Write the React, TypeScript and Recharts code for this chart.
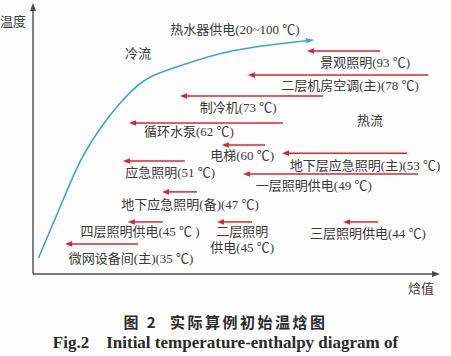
import React from 'react';
import { ComposedChart, XAxis, YAxis, Line, Scatter, ReferenceLine } from 'recharts';

// Cold stream curve (enthalpy, temperature level) in schematic units 0-100
const curveEnthalpy = [1.35, 4.67, 8.11, 11.79, 16.46, 21.87, 27.03, 31.7, 37.84, 47.17, 58.23, 68.8];
const curveTemp = [5.9, 17.7, 29.9, 42.07, 53.5, 63.84, 71.03, 74.54, 77.68, 81.73, 84.5, 86.35];

// Hot stream arrows (pointing left): head enthalpy, tail enthalpy, level
const arrowNames = ['景观照明', '二层机房空调(主)', '制冷机', '循环水泵', '电梯', '应急照明', '地下层应急照明(主)', '一层照明供电', '地下应急照明(备)', '四层照明供电', '二层照明供电', '三层照明供电', '微网设备间(主)'];
const arrowHeadX = [67.3, 52.8, 36.1, 23.6, 46.4, 22.1, 61.2, 51.6, 31.7, 23.3, 45.2, 76.2, 7.9];
const arrowTailX = [85.3, 97.1, 71.3, 61.4, 57.0, 37.3, 91.9, 94.6, 40.3, 31.9, 53.8, 84.8, 25.8];
const arrowLevel = [82.3, 73.4, 65.7, 55.7, 47.6, 41.7, 44.6, 36.9, 30.3, 19.2, 19.2, 19.2, 11.1];

// Text labels
const labelTexts = ['热水器供电(20~100 ℃)', '冷流', '热流', '景观照明(93 ℃)', '二层机房空调(主)(78 ℃)', '制冷机(73 ℃)', '循环水泵(62 ℃)', '电梯(60 ℃)', '地下层应急照明(主)(53 ℃)', '应急照明(51 ℃)', '一层照明供电(49 ℃)', '地下应急照明(备)(47 ℃)', '四层照明供电(45 ℃ )', '二层照明', '供电(45 ℃)', '三层照明供电(44 ℃)', '微网设备间(主)(35 ℃)'];
const labelX = [49.6, 25.8, 82.8, 81.6, 77.9, 50.4, 38.3, 51.4, 81.6, 33.7, 69.0, 38.6, 26.3, 51.4, 51.4, 82.3, 24.1];
const labelY = [90.4, 81.2, 56.5, 78.2, 69.4, 61.6, 52.4, 43.9, 40.2, 37.3, 32.8, 25.5, 15.5, 15.5, 9.6, 15.1, 5.9];

const curveData = curveEnthalpy.map((x, i) => ({ x, y: curveTemp[i] }));
const labelData = labelTexts.map((text, i) => ({ x: labelX[i], y: labelY[i], text }));

const RED = '#d9262d';
const BLUE = '#38a7c9';
const AXIS = '#4a4a4a';
const TEXT = '#3a3a3a';
const FONT = "'Liberation Serif', 'Noto Sans CJK SC', serif";

function arrowShape(color: string, width: number, len: number, half: number, drawLine = true) {
  return (p: any) => {
    const { x1, y1, x2, y2 } = p;
    if ([x1, y1, x2, y2].some((v: any) => typeof v !== 'number' || isNaN(v))) return <g />;
    const dx = x2 - x1;
    const dy = y2 - y1;
    const l = Math.sqrt(dx * dx + dy * dy) || 1;
    const ux = dx / l;
    const uy = dy / l;
    const nx = -uy;
    const ny = ux;
    const bx = x2 - ux * len;
    const by = y2 - uy * len;
    const pts = `${x2},${y2} ${bx + nx * half},${by + ny * half} ${bx - nx * half},${by - ny * half}`;
    return (
      <g>
        {drawLine && (
          <line x1={x1} y1={y1} x2={x2 - ux * len * 0.6} y2={y2 - uy * len * 0.6} stroke={color} strokeWidth={width} />
        )}
        <polygon points={pts} fill={color} />
      </g>
    );
  };
}

const LabelShape = (p: any) => {
  if (typeof p.cx !== 'number') return <g />;
  return (
    <text
      x={p.cx}
      y={p.cy}
      textAnchor="middle"
      dominantBaseline="central"
      fontSize={13}
      fontFamily={FONT}
      fill={TEXT}
    >
      {p.payload.text}
    </text>
  );
};

export default function App() {
  const n = curveData.length;
  return (
    <div style={{ position: 'absolute', left: 0, top: 0, width: 451, height: 356, background: '#fdfdfd', overflow: 'hidden' }}>
      <ComposedChart
        width={451}
        height={356}
        margin={{ top: 3, right: 11, bottom: 82, left: 33 }}
      >
        <XAxis type="number" dataKey="x" domain={[0, 100]} hide allowDataOverflow />
        <YAxis type="number" dataKey="y" domain={[0, 100]} hide allowDataOverflow />
        {/* axes with arrowheads */}
        <ReferenceLine
          segment={[{ x: 0, y: 0 }, { x: 0, y: 100 }]}
          ifOverflow="visible"
          shape={arrowShape(AXIS, 1.4, 8, 3)}
        />
        <ReferenceLine
          segment={[{ x: 0, y: 0 }, { x: 100, y: 0 }]}
          ifOverflow="visible"
          shape={arrowShape(AXIS, 1.4, 8, 3)}
        />
        {/* cold stream curve */}
        <Line
          data={curveData}
          dataKey="y"
          type="natural"
          stroke={BLUE}
          strokeWidth={1.6}
          dot={false}
          activeDot={false}
          isAnimationActive={false}
        />
        <ReferenceLine
          segment={[curveData[n - 2], curveData[n - 1]]}
          ifOverflow="visible"
          shape={arrowShape(BLUE, 1.6, 7, 2.8, false)}
        />
        {/* hot stream arrows */}
        {arrowNames.map((name, i) => (
          <ReferenceLine
            key={name + i}
            segment={[{ x: arrowTailX[i], y: arrowLevel[i] }, { x: arrowHeadX[i], y: arrowLevel[i] }]}
            ifOverflow="visible"
            shape={arrowShape(RED, 1.5, 7, 2.8)}
          />
        ))}
        <Scatter data={labelData} dataKey="y" shape={LabelShape} isAnimationActive={false} />
      </ComposedChart>
      <div style={{ position: 'absolute', left: 0, top: 13, fontSize: 13, fontFamily: FONT, color: TEXT, lineHeight: '18px' }}>温度</div>
      <div style={{ position: 'absolute', left: 408, top: 280, fontSize: 13, fontFamily: FONT, color: TEXT, lineHeight: '18px' }}>焓值</div>
      <div style={{ position: 'absolute', left: 0, width: 451, top: 312, textAlign: 'center', fontSize: 15, fontWeight: 'bold', fontFamily: "'Noto Sans CJK SC', sans-serif", color: '#2a2a2a', letterSpacing: 2.5, lineHeight: '20px', whiteSpace: 'pre' }}>图 2  实际算例初始温焓图</div>
      <div style={{ position: 'absolute', left: 0, width: 451, top: 332, textAlign: 'center', fontSize: 17, fontWeight: 'bold', fontFamily: "'Liberation Serif', serif", color: '#2a2a2a', lineHeight: '22px', whiteSpace: 'pre' }}>Fig.2    Initial temperature-enthalpy diagram of</div>
    </div>
  );
}
